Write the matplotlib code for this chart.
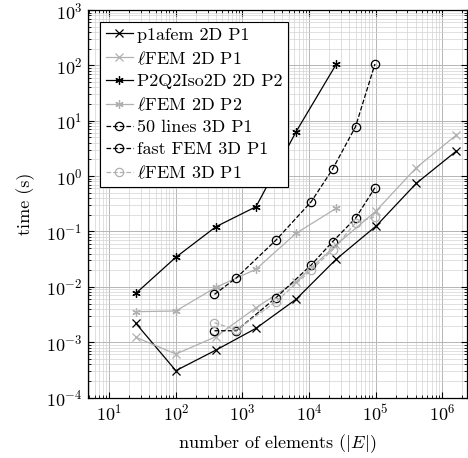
'''
Timing comparison of FEM assembly codes
'''

import numpy as np
import matplotlib
matplotlib.use('Agg')
import matplotlib.pyplot as plt
from matplotlib.ticker import NullFormatter

plt.rcParams['font.family'] = 'cmr10'
plt.rcParams['mathtext.fontset'] = 'cm'
plt.rcParams['axes.formatter.use_mathtext'] = True
plt.rcParams['font.size'] = 13

# ═══ Data ══════════════════════════════════════════════════════════════════

n_2d = [25, 100, 400, 1600, 6400, 25600, 102400, 409600, 1638400]
n_2d_p2 = [25, 100, 400, 1600, 6400, 25600]
n_3d = [380, 810, 3200, 10800, 22600, 50000, 98000]

t_p1afem = [2.2e-3, 3.06e-4, 7.2e-4, 1.78e-3, 5.96e-3, 0.0315, 0.126, 0.741, 2.84]
t_lfem_2d_p1 = [1.23e-3, 6.1e-4, 1.26e-3, 4.2e-3, 0.0124, 0.057, 0.237, 1.42, 5.52]
t_p2q2 = [7.6e-3, 0.0342, 0.122, 0.28, 6.34, 104.5]
t_lfem_2d_p2 = [3.56e-3, 3.66e-3, 9.8e-3, 0.0208, 0.0927, 0.262]
t_50lines = [7.3e-3, 0.0145, 0.070, 0.345, 1.33, 7.8, 106]
t_fastfem = [1.61e-3, 1.61e-3, 6.37e-3, 0.0248, 0.0653, 0.173, 0.618]
t_lfem_3d_p1 = [2.25e-3, 1.66e-3, 5.4e-3, 0.0201, 0.0464, 0.142, 0.185]

# ═══ Figure ════════════════════════════════════════════════════════════════

gray = '#b0b0b0'
star = (6, 2, 0)

fig = plt.figure(figsize=(4.68, 4.58), dpi=100)
ax = fig.add_axes([0.188, 0.132, 0.81, 0.846])

kw = dict(lw=0.9, ms=6, mew=0.9)
ax.plot(n_2d, t_p1afem, '-', color='k', marker='x', label='p1afem 2D P1', **kw)
ax.plot(n_2d, t_lfem_2d_p1, '-', color=gray, marker='x', label=r'$\ell$FEM 2D P1', **kw)
ax.plot(n_2d_p2, t_p2q2, '-', color='k', marker=star, label='P2Q2Iso2D 2D P2', **kw)
ax.plot(n_2d_p2, t_lfem_2d_p2, '-', color=gray, marker=star, label=r'$\ell$FEM 2D P2', **kw)
ax.plot(n_3d, t_50lines, '--', color='k', marker='o', mfc='none', label='50 lines 3D P1', **kw)
ax.plot(n_3d, t_fastfem, '--', color='k', marker='o', mfc='none', label='fast FEM 3D P1', **kw)
ax.plot(n_3d, t_lfem_3d_p1, '--', color=gray, marker='o', mfc='none', label=r'$\ell$FEM 3D P1', **kw)

ax.set_xscale('log')
ax.set_yscale('log')
ax.set_xlim(10**0.68, 10**6.375)
ax.set_ylim(1e-4, 1e3)
ax.xaxis.set_minor_formatter(NullFormatter())
ax.yaxis.set_minor_formatter(NullFormatter())

ax.grid(which='major', color='#b5b5b5', lw=0.7)
ax.grid(which='minor', color='#d3d3d3', lw=0.5)
ax.set_axisbelow(True)
ax.tick_params(which='both', direction='in', top=True, right=True, labelsize=13)
ax.tick_params(which='major', length=4, pad=4)
ax.tick_params(which='minor', length=2)
for s in ax.spines.values():
    s.set_linewidth(0.9)

ax.set_xlabel(r'number of elements ($|E|$)', labelpad=6)
ax.set_ylabel('time (s)', labelpad=8)

leg = ax.legend(loc='upper left', bbox_to_anchor=(0.032, 0.97), frameon=True,
                fancybox=False, edgecolor='k', framealpha=1, handlelength=1.5,
                handletextpad=0.25, borderpad=0.3, borderaxespad=0,
                labelspacing=0.36, numpoints=1)
leg.get_frame().set_linewidth(0.8)

fig.savefig('out.png', dpi=100)
